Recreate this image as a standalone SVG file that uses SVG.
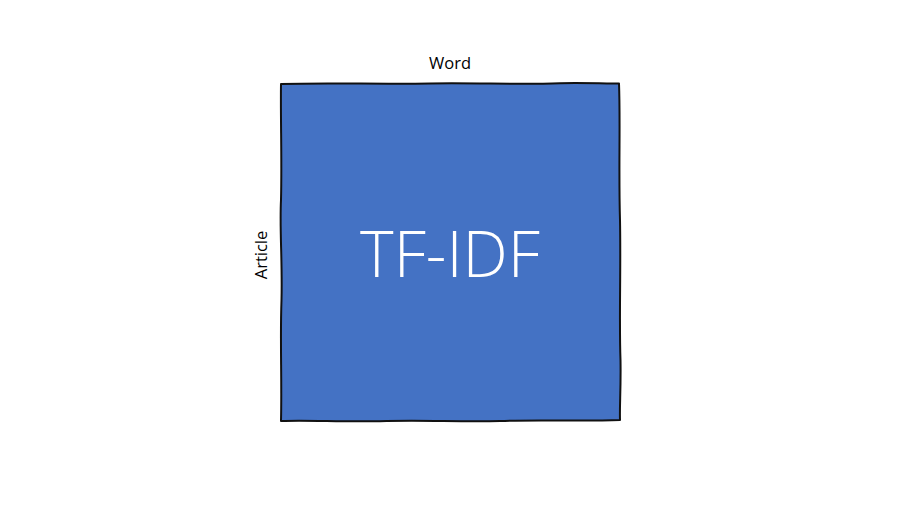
<svg xmlns="http://www.w3.org/2000/svg" width="900" height="506" viewBox="0 0 900 506">
<style>
.lbl{font-family:"Open Sans","Liberation Sans",sans-serif;font-size:16.5px;fill:#000;text-anchor:middle}
.big{font-family:"Open Sans","Liberation Sans",sans-serif;font-size:64px;font-weight:300;fill:#ffffff;text-anchor:middle}
</style>
<rect width="900" height="506" fill="#ffffff"/>
<g id="matrix">
<path d="M281,84 C330,82.5 380,84.5 430,83.5 C480,82.8 520,84.8 560,83.2 C590,82.5 605,84 619,83.5 C620.5,120 618.5,170 620,220 C621,270 619,320 620.5,360 C621,390 619.5,405 620,420 C580,421.5 540,419.5 500,421 C460,422 420,419.8 380,421.2 C340,422 310,420 281,421 C282,380 280,340 281.5,300 C282.5,260 279.5,230 281,200 C282,160 280.5,120 281,84 Z" fill="#4472C4" stroke="#111" stroke-width="2" stroke-linejoin="round"/>
<text class="big" x="450" y="277">TF-IDF</text>
</g>
<g id="word-label"><text class="lbl" x="450" y="69">Word</text></g>
<g id="article-label"><text class="lbl" transform="translate(267,255) rotate(-90)">Article</text></g>
<g id="connectors"/>
</svg>
